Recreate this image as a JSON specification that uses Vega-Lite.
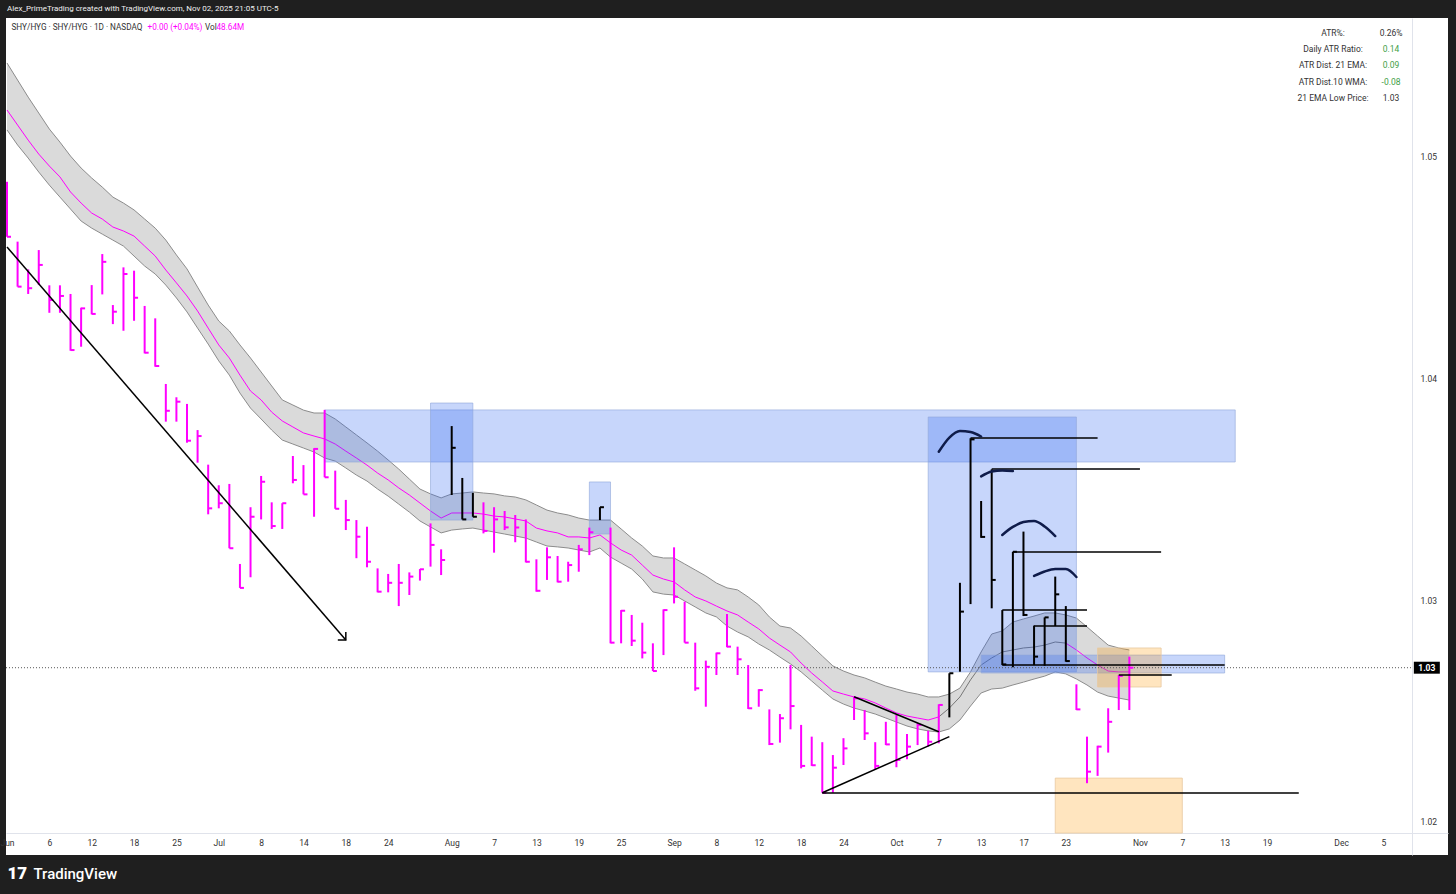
{
  "$schema": "https://vega.github.io/schema/vega-lite/v6.json",
  "width": 1442,
  "height": 837,
  "autosize": "none",
  "padding": {"left": 6, "top": 18, "right": 8, "bottom": 39},
  "background": "#1f1f1f",
  "title": {
    "text": "Alex_PrimeTrading created with TradingView.com, Nov 02, 2025 21:05 UTC-5",
    "anchor": "start",
    "frame": "group",
    "color": "#f0f0f0",
    "font": "Roboto",
    "fontSize": 8,
    "fontWeight": "normal",
    "offset": 5,
    "dx": 1
  },
  "config": {
    "view": {"fill": "#ffffff", "stroke": null},
    "font": "Roboto",
    "axis": {"grid": false, "ticks": false, "domainColor": "#e0e3eb", "labelColor": "#333333", "labelFont": "Roboto"}
  },
  "datasets": {
    "bars": [
      {"date": "2025-06-02", "high": 1.04888, "low": 1.04640, "close": 1.04640, "source": "SHY/HYG"},
      {"date": "2025-06-03", "high": 1.04618, "low": 1.04415, "close": 1.04415, "source": "SHY/HYG"},
      {"date": "2025-06-04", "high": 1.04493, "low": 1.04382, "close": 1.04408, "source": "SHY/HYG"},
      {"date": "2025-06-05", "high": 1.04580, "low": 1.04422, "close": 1.04513, "source": "SHY/HYG"},
      {"date": "2025-06-06", "high": 1.04421, "low": 1.04297, "close": 1.04355, "source": "SHY/HYG"},
      {"date": "2025-06-09", "high": 1.04421, "low": 1.04297, "close": 1.04373, "source": "SHY/HYG"},
      {"date": "2025-06-10", "high": 1.04382, "low": 1.04126, "close": 1.04129, "source": "SHY/HYG"},
      {"date": "2025-06-11", "high": 1.04320, "low": 1.04144, "close": 1.04317, "source": "SHY/HYG"},
      {"date": "2025-06-12", "high": 1.04422, "low": 1.04290, "close": 1.04292, "source": "SHY/HYG"},
      {"date": "2025-06-13", "high": 1.04562, "low": 1.04380, "close": 1.04527, "source": "SHY/HYG"},
      {"date": "2025-06-16", "high": 1.04332, "low": 1.04246, "close": 1.04302, "source": "SHY/HYG"},
      {"date": "2025-06-17", "high": 1.04502, "low": 1.04216, "close": 1.04472, "source": "SHY/HYG"},
      {"date": "2025-06-18", "high": 1.04487, "low": 1.04261, "close": 1.04365, "source": "SHY/HYG"},
      {"date": "2025-06-20", "high": 1.04328, "low": 1.04114, "close": 1.04117, "source": "SHY/HYG"},
      {"date": "2025-06-23", "high": 1.04272, "low": 1.04054, "close": 1.04057, "source": "SHY/HYG"},
      {"date": "2025-06-24", "high": 1.03976, "low": 1.03806, "close": 1.03855, "source": "SHY/HYG"},
      {"date": "2025-06-25", "high": 1.03916, "low": 1.03806, "close": 1.03896, "source": "SHY/HYG"},
      {"date": "2025-06-26", "high": 1.03886, "low": 1.03711, "close": 1.03720, "source": "SHY/HYG"},
      {"date": "2025-06-27", "high": 1.03768, "low": 1.03621, "close": 1.03741, "source": "SHY/HYG"},
      {"date": "2025-06-30", "high": 1.03612, "low": 1.03388, "close": 1.03415, "source": "SHY/HYG"},
      {"date": "2025-07-01", "high": 1.03519, "low": 1.03415, "close": 1.03438, "source": "SHY/HYG"},
      {"date": "2025-07-02", "high": 1.03525, "low": 1.03235, "close": 1.03235, "source": "SHY/HYG"},
      {"date": "2025-07-03", "high": 1.03164, "low": 1.03056, "close": 1.03056, "source": "SHY/HYG"},
      {"date": "2025-07-07", "high": 1.03420, "low": 1.03104, "close": 1.03377, "source": "SHY/HYG"},
      {"date": "2025-07-08", "high": 1.03561, "low": 1.03365, "close": 1.03535, "source": "SHY/HYG"},
      {"date": "2025-07-09", "high": 1.03442, "low": 1.03322, "close": 1.03335, "source": "SHY/HYG"},
      {"date": "2025-07-10", "high": 1.03438, "low": 1.03322, "close": 1.03438, "source": "SHY/HYG"},
      {"date": "2025-07-11", "high": 1.03651, "low": 1.03528, "close": 1.03543, "source": "SHY/HYG"},
      {"date": "2025-07-14", "high": 1.03610, "low": 1.03478, "close": 1.03478, "source": "SHY/HYG"},
      {"date": "2025-07-15", "high": 1.03686, "low": 1.03377, "close": 1.03683, "source": "SHY/HYG"},
      {"date": "2025-07-16", "high": 1.03859, "low": 1.03555, "close": 1.03555, "source": "SHY/HYG"},
      {"date": "2025-07-17", "high": 1.03585, "low": 1.03413, "close": 1.03413, "source": "SHY/HYG"},
      {"date": "2025-07-18", "high": 1.03453, "low": 1.03317, "close": 1.03362, "source": "SHY/HYG"},
      {"date": "2025-07-21", "high": 1.03362, "low": 1.03190, "close": 1.03287, "source": "SHY/HYG"},
      {"date": "2025-07-22", "high": 1.03332, "low": 1.03149, "close": 1.03174, "source": "SHY/HYG"},
      {"date": "2025-07-23", "high": 1.03144, "low": 1.03036, "close": 1.03039, "source": "SHY/HYG"},
      {"date": "2025-07-24", "high": 1.03119, "low": 1.03036, "close": 1.03079, "source": "SHY/HYG"},
      {"date": "2025-07-25", "high": 1.03164, "low": 1.02974, "close": 1.03079, "source": "SHY/HYG"},
      {"date": "2025-07-28", "high": 1.03126, "low": 1.03024, "close": 1.03107, "source": "SHY/HYG"},
      {"date": "2025-07-29", "high": 1.03141, "low": 1.03089, "close": 1.03140, "source": "SHY/HYG"},
      {"date": "2025-07-30", "high": 1.03347, "low": 1.03152, "close": 1.03250, "source": "SHY/HYG"},
      {"date": "2025-07-31", "high": 1.03230, "low": 1.03114, "close": 1.03182, "source": "SHY/HYG"},
      {"date": "2025-08-01", "high": 1.03786, "low": 1.03475, "close": 1.03688, "source": "Bars pattern"},
      {"date": "2025-08-04", "high": 1.03552, "low": 1.03365, "close": 1.03365, "source": "Bars pattern"},
      {"date": "2025-08-05", "high": 1.03485, "low": 1.03377, "close": 1.03377, "source": "Bars pattern"},
      {"date": "2025-08-06", "high": 1.03442, "low": 1.03302, "close": 1.03313, "source": "SHY/HYG"},
      {"date": "2025-08-07", "high": 1.03420, "low": 1.03215, "close": 1.03365, "source": "SHY/HYG"},
      {"date": "2025-08-08", "high": 1.03403, "low": 1.03317, "close": 1.03329, "source": "SHY/HYG"},
      {"date": "2025-08-11", "high": 1.03385, "low": 1.03262, "close": 1.03329, "source": "SHY/HYG"},
      {"date": "2025-08-12", "high": 1.03365, "low": 1.03171, "close": 1.03174, "source": "SHY/HYG"},
      {"date": "2025-08-13", "high": 1.03185, "low": 1.03039, "close": 1.03043, "source": "SHY/HYG"},
      {"date": "2025-08-14", "high": 1.03239, "low": 1.03092, "close": 1.03194, "source": "SHY/HYG"},
      {"date": "2025-08-15", "high": 1.03200, "low": 1.03081, "close": 1.03084, "source": "SHY/HYG"},
      {"date": "2025-08-18", "high": 1.03174, "low": 1.03084, "close": 1.03159, "source": "SHY/HYG"},
      {"date": "2025-08-19", "high": 1.03250, "low": 1.03129, "close": 1.03230, "source": "SHY/HYG"},
      {"date": "2025-08-20", "high": 1.03328, "low": 1.03204, "close": 1.03307, "source": "SHY/HYG"},
      {"date": "2025-08-21", "high": 1.03420, "low": 1.03362, "close": 1.03420, "source": "Bars pattern"},
      {"date": "2025-08-22", "high": 1.03328, "low": 1.02806, "close": 1.02809, "source": "SHY/HYG"},
      {"date": "2025-08-25", "high": 1.02956, "low": 1.02806, "close": 1.02953, "source": "SHY/HYG"},
      {"date": "2025-08-26", "high": 1.02934, "low": 1.02794, "close": 1.02818, "source": "SHY/HYG"},
      {"date": "2025-08-27", "high": 1.02899, "low": 1.02738, "close": 1.02764, "source": "SHY/HYG"},
      {"date": "2025-08-28", "high": 1.02806, "low": 1.02681, "close": 1.02681, "source": "SHY/HYG"},
      {"date": "2025-08-29", "high": 1.02959, "low": 1.02753, "close": 1.02956, "source": "SHY/HYG"},
      {"date": "2025-09-02", "high": 1.03239, "low": 1.02986, "close": 1.03016, "source": "SHY/HYG"},
      {"date": "2025-09-03", "high": 1.02994, "low": 1.02809, "close": 1.02809, "source": "SHY/HYG"},
      {"date": "2025-09-04", "high": 1.02809, "low": 1.02592, "close": 1.02603, "source": "SHY/HYG"},
      {"date": "2025-09-05", "high": 1.02728, "low": 1.02520, "close": 1.02700, "source": "SHY/HYG"},
      {"date": "2025-09-08", "high": 1.02764, "low": 1.02663, "close": 1.02761, "source": "SHY/HYG"},
      {"date": "2025-09-09", "high": 1.02938, "low": 1.02788, "close": 1.02791, "source": "SHY/HYG"},
      {"date": "2025-09-10", "high": 1.02791, "low": 1.02663, "close": 1.02734, "source": "SHY/HYG"},
      {"date": "2025-09-11", "high": 1.02708, "low": 1.02510, "close": 1.02513, "source": "SHY/HYG"},
      {"date": "2025-09-12", "high": 1.02599, "low": 1.02520, "close": 1.02595, "source": "SHY/HYG"},
      {"date": "2025-09-15", "high": 1.02508, "low": 1.02347, "close": 1.02352, "source": "SHY/HYG"},
      {"date": "2025-09-16", "high": 1.02487, "low": 1.02358, "close": 1.02468, "source": "SHY/HYG"},
      {"date": "2025-09-17", "high": 1.02708, "low": 1.02418, "close": 1.02523, "source": "SHY/HYG"},
      {"date": "2025-09-18", "high": 1.02438, "low": 1.02242, "close": 1.02253, "source": "SHY/HYG"},
      {"date": "2025-09-19", "high": 1.02385, "low": 1.02253, "close": 1.02256, "source": "SHY/HYG"},
      {"date": "2025-09-22", "high": 1.02360, "low": 1.02132, "close": 1.02132, "source": "SHY/HYG"},
      {"date": "2025-09-23", "high": 1.02302, "low": 1.02132, "close": 1.02245, "source": "SHY/HYG"},
      {"date": "2025-09-24", "high": 1.02378, "low": 1.02257, "close": 1.02332, "source": "SHY/HYG"},
      {"date": "2025-09-25", "high": 1.02565, "low": 1.02460, "close": 1.02558, "source": "SHY/HYG"},
      {"date": "2025-09-26", "high": 1.02505, "low": 1.02370, "close": 1.02400, "source": "SHY/HYG"},
      {"date": "2025-09-29", "high": 1.02360, "low": 1.02238, "close": 1.02253, "source": "SHY/HYG"},
      {"date": "2025-09-30", "high": 1.02452, "low": 1.02347, "close": 1.02350, "source": "SHY/HYG"},
      {"date": "2025-10-01", "high": 1.02483, "low": 1.02247, "close": 1.02280, "source": "SHY/HYG"},
      {"date": "2025-10-02", "high": 1.02397, "low": 1.02283, "close": 1.02340, "source": "SHY/HYG"},
      {"date": "2025-10-03", "high": 1.02445, "low": 1.02347, "close": 1.02438, "source": "SHY/HYG"},
      {"date": "2025-10-06", "high": 1.02412, "low": 1.02340, "close": 1.02362, "source": "SHY/HYG"},
      {"date": "2025-10-07", "high": 1.02531, "low": 1.02355, "close": 1.02528, "source": "SHY/HYG"},
      {"date": "2025-10-08", "high": 1.02671, "low": 1.02472, "close": 1.02671, "source": "Bars pattern"},
      {"date": "2025-10-09", "high": 1.03079, "low": 1.02678, "close": 1.02949, "source": "Bars pattern"},
      {"date": "2025-10-10", "high": 1.03731, "low": 1.02983, "close": 1.03726, "source": "Bars pattern"},
      {"date": "2025-10-13", "high": 1.03448, "low": 1.03282, "close": 1.03286, "source": "Bars pattern"},
      {"date": "2025-10-14", "high": 1.03591, "low": 1.02964, "close": 1.03092, "source": "Bars pattern"},
      {"date": "2025-10-15", "high": 1.02956, "low": 1.02708, "close": 1.02711, "source": "Bars pattern"},
      {"date": "2025-10-16", "high": 1.03219, "low": 1.02698, "close": 1.03219, "source": "Bars pattern"},
      {"date": "2025-10-17", "high": 1.03310, "low": 1.02929, "close": 1.02934, "source": "Bars pattern"},
      {"date": "2025-10-20", "high": 1.02886, "low": 1.02708, "close": 1.02746, "source": "Bars pattern"},
      {"date": "2025-10-21", "high": 1.02923, "low": 1.02705, "close": 1.02923, "source": "Bars pattern"},
      {"date": "2025-10-22", "high": 1.03107, "low": 1.02884, "close": 1.03027, "source": "Bars pattern"},
      {"date": "2025-10-23", "high": 1.02974, "low": 1.02723, "close": 1.02726, "source": "Bars pattern"},
      {"date": "2025-10-24", "high": 1.02621, "low": 1.02505, "close": 1.02508, "source": "SHY/HYG"},
      {"date": "2025-10-27", "high": 1.02385, "low": 1.02175, "close": 1.02227, "source": "SHY/HYG"},
      {"date": "2025-10-28", "high": 1.02344, "low": 1.02208, "close": 1.02340, "source": "SHY/HYG"},
      {"date": "2025-10-29", "high": 1.02513, "low": 1.02313, "close": 1.02452, "source": "SHY/HYG"},
      {"date": "2025-10-30", "high": 1.02663, "low": 1.02505, "close": 1.02659, "source": "SHY/HYG"},
      {"date": "2025-10-31", "high": 1.02746, "low": 1.02505, "close": 1.02696, "source": "SHY/HYG"}
    ],
    "ema": [
      {"date": "2025-06-02", "upper": 1.05424, "mid": 1.05212, "lower": 1.05122},
      {"date": "2025-06-03", "upper": 1.05347, "mid": 1.05144, "lower": 1.05054},
      {"date": "2025-06-04", "upper": 1.05270, "mid": 1.05076, "lower": 1.04995},
      {"date": "2025-06-05", "upper": 1.05198, "mid": 1.05013, "lower": 1.04932},
      {"date": "2025-06-06", "upper": 1.05126, "mid": 1.04959, "lower": 1.04873},
      {"date": "2025-06-09", "upper": 1.05067, "mid": 1.04910, "lower": 1.04819},
      {"date": "2025-06-10", "upper": 1.05004, "mid": 1.04842, "lower": 1.04765},
      {"date": "2025-06-11", "upper": 1.04950, "mid": 1.04792, "lower": 1.04711},
      {"date": "2025-06-12", "upper": 1.04905, "mid": 1.04747, "lower": 1.04679},
      {"date": "2025-06-13", "upper": 1.04864, "mid": 1.04720, "lower": 1.04652},
      {"date": "2025-06-16", "upper": 1.04819, "mid": 1.04684, "lower": 1.04625},
      {"date": "2025-06-17", "upper": 1.04792, "mid": 1.04666, "lower": 1.04598},
      {"date": "2025-06-18", "upper": 1.04761, "mid": 1.04643, "lower": 1.04553},
      {"date": "2025-06-20", "upper": 1.04720, "mid": 1.04598, "lower": 1.04508},
      {"date": "2025-06-23", "upper": 1.04679, "mid": 1.04553, "lower": 1.04472},
      {"date": "2025-06-24", "upper": 1.04625, "mid": 1.04490, "lower": 1.04422},
      {"date": "2025-06-25", "upper": 1.04558, "mid": 1.04432, "lower": 1.04364},
      {"date": "2025-06-26", "upper": 1.04495, "mid": 1.04373, "lower": 1.04301},
      {"date": "2025-06-27", "upper": 1.04413, "mid": 1.04305, "lower": 1.04228},
      {"date": "2025-06-30", "upper": 1.04332, "mid": 1.04228, "lower": 1.04156},
      {"date": "2025-07-01", "upper": 1.04260, "mid": 1.04152, "lower": 1.04080},
      {"date": "2025-07-02", "upper": 1.04215, "mid": 1.04093, "lower": 1.04016},
      {"date": "2025-07-03", "upper": 1.04152, "mid": 1.04016, "lower": 1.03935},
      {"date": "2025-07-07", "upper": 1.04093, "mid": 1.03944, "lower": 1.03867},
      {"date": "2025-07-08", "upper": 1.04030, "mid": 1.03904, "lower": 1.03818},
      {"date": "2025-07-09", "upper": 1.03967, "mid": 1.03849, "lower": 1.03768},
      {"date": "2025-07-10", "upper": 1.03904, "mid": 1.03809, "lower": 1.03723},
      {"date": "2025-07-11", "upper": 1.03881, "mid": 1.03782, "lower": 1.03705},
      {"date": "2025-07-14", "upper": 1.03858, "mid": 1.03755, "lower": 1.03687},
      {"date": "2025-07-15", "upper": 1.03845, "mid": 1.03741, "lower": 1.03669},
      {"date": "2025-07-16", "upper": 1.03845, "mid": 1.03728, "lower": 1.03642},
      {"date": "2025-07-17", "upper": 1.03818, "mid": 1.03705, "lower": 1.03628},
      {"date": "2025-07-18", "upper": 1.03782, "mid": 1.03673, "lower": 1.03597},
      {"date": "2025-07-21", "upper": 1.03746, "mid": 1.03642, "lower": 1.03565},
      {"date": "2025-07-22", "upper": 1.03710, "mid": 1.03610, "lower": 1.03538},
      {"date": "2025-07-23", "upper": 1.03673, "mid": 1.03574, "lower": 1.03502},
      {"date": "2025-07-24", "upper": 1.03633, "mid": 1.03543, "lower": 1.03470},
      {"date": "2025-07-25", "upper": 1.03592, "mid": 1.03507, "lower": 1.03434},
      {"date": "2025-07-28", "upper": 1.03547, "mid": 1.03475, "lower": 1.03398},
      {"date": "2025-07-29", "upper": 1.03502, "mid": 1.03439, "lower": 1.03358},
      {"date": "2025-07-30", "upper": 1.03480, "mid": 1.03403, "lower": 1.03331},
      {"date": "2025-07-31", "upper": 1.03462, "mid": 1.03371, "lower": 1.03304},
      {"date": "2025-08-01", "upper": 1.03480, "mid": 1.03394, "lower": 1.03317},
      {"date": "2025-08-04", "upper": 1.03484, "mid": 1.03394, "lower": 1.03322},
      {"date": "2025-08-05", "upper": 1.03489, "mid": 1.03394, "lower": 1.03326},
      {"date": "2025-08-06", "upper": 1.03484, "mid": 1.03389, "lower": 1.03317},
      {"date": "2025-08-07", "upper": 1.03480, "mid": 1.03380, "lower": 1.03308},
      {"date": "2025-08-08", "upper": 1.03471, "mid": 1.03376, "lower": 1.03299},
      {"date": "2025-08-11", "upper": 1.03466, "mid": 1.03367, "lower": 1.03290},
      {"date": "2025-08-12", "upper": 1.03453, "mid": 1.03358, "lower": 1.03281},
      {"date": "2025-08-13", "upper": 1.03430, "mid": 1.03326, "lower": 1.03263},
      {"date": "2025-08-14", "upper": 1.03407, "mid": 1.03313, "lower": 1.03245},
      {"date": "2025-08-15", "upper": 1.03394, "mid": 1.03304, "lower": 1.03241},
      {"date": "2025-08-18", "upper": 1.03385, "mid": 1.03286, "lower": 1.03236},
      {"date": "2025-08-19", "upper": 1.03371, "mid": 1.03286, "lower": 1.03227},
      {"date": "2025-08-20", "upper": 1.03362, "mid": 1.03281, "lower": 1.03218},
      {"date": "2025-08-21", "upper": 1.03362, "mid": 1.03295, "lower": 1.03236},
      {"date": "2025-08-22", "upper": 1.03362, "mid": 1.03259, "lower": 1.03195},
      {"date": "2025-08-25", "upper": 1.03322, "mid": 1.03227, "lower": 1.03168},
      {"date": "2025-08-26", "upper": 1.03281, "mid": 1.03204, "lower": 1.03141},
      {"date": "2025-08-27", "upper": 1.03245, "mid": 1.03159, "lower": 1.03096},
      {"date": "2025-08-28", "upper": 1.03200, "mid": 1.03114, "lower": 1.03038},
      {"date": "2025-08-29", "upper": 1.03191, "mid": 1.03096, "lower": 1.03028},
      {"date": "2025-09-02", "upper": 1.03191, "mid": 1.03083, "lower": 1.03024},
      {"date": "2025-09-03", "upper": 1.03164, "mid": 1.03047, "lower": 1.02997},
      {"date": "2025-09-04", "upper": 1.03137, "mid": 1.03015, "lower": 1.02970},
      {"date": "2025-09-05", "upper": 1.03110, "mid": 1.02997, "lower": 1.02943},
      {"date": "2025-09-08", "upper": 1.03078, "mid": 1.02974, "lower": 1.02925},
      {"date": "2025-09-09", "upper": 1.03056, "mid": 1.02952, "lower": 1.02884},
      {"date": "2025-09-10", "upper": 1.03047, "mid": 1.02934, "lower": 1.02857},
      {"date": "2025-09-11", "upper": 1.03015, "mid": 1.02902, "lower": 1.02835},
      {"date": "2025-09-12", "upper": 1.02979, "mid": 1.02871, "lower": 1.02803},
      {"date": "2025-09-15", "upper": 1.02925, "mid": 1.02830, "lower": 1.02776},
      {"date": "2025-09-16", "upper": 1.02884, "mid": 1.02798, "lower": 1.02744},
      {"date": "2025-09-17", "upper": 1.02875, "mid": 1.02767, "lower": 1.02713},
      {"date": "2025-09-18", "upper": 1.02839, "mid": 1.02717, "lower": 1.02677},
      {"date": "2025-09-19", "upper": 1.02794, "mid": 1.02672, "lower": 1.02636},
      {"date": "2025-09-22", "upper": 1.02749, "mid": 1.02632, "lower": 1.02595},
      {"date": "2025-09-23", "upper": 1.02704, "mid": 1.02591, "lower": 1.02555},
      {"date": "2025-09-24", "upper": 1.02681, "mid": 1.02577, "lower": 1.02532},
      {"date": "2025-09-25", "upper": 1.02663, "mid": 1.02564, "lower": 1.02514},
      {"date": "2025-09-26", "upper": 1.02650, "mid": 1.02555, "lower": 1.02501},
      {"date": "2025-09-29", "upper": 1.02631, "mid": 1.02537, "lower": 1.02487},
      {"date": "2025-09-30", "upper": 1.02613, "mid": 1.02514, "lower": 1.02469},
      {"date": "2025-10-01", "upper": 1.02600, "mid": 1.02492, "lower": 1.02451},
      {"date": "2025-10-02", "upper": 1.02586, "mid": 1.02478, "lower": 1.02433},
      {"date": "2025-10-03", "upper": 1.02577, "mid": 1.02469, "lower": 1.02420},
      {"date": "2025-10-06", "upper": 1.02564, "mid": 1.02460, "lower": 1.02411},
      {"date": "2025-10-07", "upper": 1.02564, "mid": 1.02474, "lower": 1.02406},
      {"date": "2025-10-08", "upper": 1.02577, "mid": 1.02514, "lower": 1.02420},
      {"date": "2025-10-09", "upper": 1.02604, "mid": 1.02564, "lower": 1.02460},
      {"date": "2025-10-10", "upper": 1.02677, "mid": 1.02641, "lower": 1.02523},
      {"date": "2025-10-13", "upper": 1.02767, "mid": 1.02708, "lower": 1.02582},
      {"date": "2025-10-14", "upper": 1.02848, "mid": 1.02740, "lower": 1.02600},
      {"date": "2025-10-15", "upper": 1.02862, "mid": 1.02767, "lower": 1.02604},
      {"date": "2025-10-16", "upper": 1.02902, "mid": 1.02776, "lower": 1.02618},
      {"date": "2025-10-17", "upper": 1.02916, "mid": 1.02785, "lower": 1.02631},
      {"date": "2025-10-20", "upper": 1.02929, "mid": 1.02789, "lower": 1.02645},
      {"date": "2025-10-21", "upper": 1.02943, "mid": 1.02798, "lower": 1.02658},
      {"date": "2025-10-22", "upper": 1.02943, "mid": 1.02812, "lower": 1.02677},
      {"date": "2025-10-23", "upper": 1.02934, "mid": 1.02807, "lower": 1.02668},
      {"date": "2025-10-24", "upper": 1.02920, "mid": 1.02776, "lower": 1.02645},
      {"date": "2025-10-27", "upper": 1.02880, "mid": 1.02740, "lower": 1.02618},
      {"date": "2025-10-28", "upper": 1.02839, "mid": 1.02708, "lower": 1.02586},
      {"date": "2025-10-29", "upper": 1.02798, "mid": 1.02681, "lower": 1.02568},
      {"date": "2025-10-30", "upper": 1.02785, "mid": 1.02677, "lower": 1.02559},
      {"date": "2025-10-31", "upper": 1.02776, "mid": 1.02677, "lower": 1.02550}
    ],
    "blueZones": [
      {"start": "2025-07-16", "end": "2025-11-14", "top": 1.03859, "bottom": 1.03624},
      {"start": "2025-07-30", "end": "2025-08-05", "top": 1.03890, "bottom": 1.03362},
      {"start": "2025-08-20", "end": "2025-08-22", "top": 1.03534, "bottom": 1.03299},
      {"start": "2025-10-06", "end": "2025-10-24", "top": 1.03827, "bottom": 1.02677},
      {"start": "2025-10-13", "end": "2025-11-13", "top": 1.02753, "bottom": 1.02672}
    ],
    "orangeZones": [
      {"start": "2025-10-28", "end": "2025-11-05", "top": 1.02785, "bottom": 1.02609},
      {"start": "2025-10-22", "end": "2025-11-07", "top": 1.02198, "bottom": 1.0195}
    ],
    "levels": [
      {"start": "2025-09-22", "end": "2025-11-24", "price": 1.02131},
      {"start": "2025-10-10", "end": "2025-10-28", "price": 1.03732},
      {"start": "2025-10-14", "end": "2025-11-03", "price": 1.03592},
      {"start": "2025-10-16", "end": "2025-11-05", "price": 1.03218},
      {"start": "2025-10-15", "end": "2025-10-27", "price": 1.02956},
      {"start": "2025-10-20", "end": "2025-10-27", "price": 1.02884},
      {"start": "2025-10-15", "end": "2025-11-13", "price": 1.02708},
      {"start": "2025-10-30", "end": "2025-11-06", "price": 1.02663}
    ],
    "trendlines": [
      {"line": "downtrend", "date": "2025-06-02", "price": 1.04594},
      {"line": "downtrend", "date": "2025-07-18", "price": 1.02821},
      {"line": "support", "date": "2025-09-22", "price": 1.02132},
      {"line": "support", "date": "2025-10-08", "price": 1.02385},
      {"line": "resistance", "date": "2025-09-25", "price": 1.02565},
      {"line": "resistance", "date": "2025-10-07", "price": 1.02407}
    ],
    "arcs": [
      {"arc": "a1", "date": "2025-10-07", "price": 1.03670},
      {"arc": "a1", "date": "2025-10-08", "price": 1.03734},
      {"arc": "a1", "date": "2025-10-09", "price": 1.03764},
      {"arc": "a1", "date": "2025-10-10", "price": 1.03759},
      {"arc": "a1", "date": "2025-10-13", "price": 1.03739},
      {"arc": "a2", "date": "2025-10-13", "price": 1.03559},
      {"arc": "a2", "date": "2025-10-14", "price": 1.03581},
      {"arc": "a2", "date": "2025-10-15", "price": 1.03586},
      {"arc": "a2", "date": "2025-10-16", "price": 1.03583},
      {"arc": "a3", "date": "2025-10-15", "price": 1.03295},
      {"arc": "a3", "date": "2025-10-16", "price": 1.03331},
      {"arc": "a3", "date": "2025-10-17", "price": 1.03353},
      {"arc": "a3", "date": "2025-10-20", "price": 1.03358},
      {"arc": "a3", "date": "2025-10-21", "price": 1.03333},
      {"arc": "a3", "date": "2025-10-22", "price": 1.03290},
      {"arc": "a4", "date": "2025-10-20", "price": 1.03110},
      {"arc": "a4", "date": "2025-10-21", "price": 1.03130},
      {"arc": "a4", "date": "2025-10-22", "price": 1.03141},
      {"arc": "a4", "date": "2025-10-23", "price": 1.03141},
      {"arc": "a4", "date": "2025-10-24", "price": 1.03105}
    ]
  },
  "layer": [
    {
      "data": {"name": "ema"},
      "mark": {"type": "area", "color": "#dadada", "opacity": 1},
      "encoding": {
        "x": {
          "field": "date",
          "type": "ordinal",
          "scale": {
            "type": "point",
            "padding": 0.094,
            "domain": ["2025-06-02","2025-06-03","2025-06-04","2025-06-05","2025-06-06","2025-06-09","2025-06-10","2025-06-11","2025-06-12","2025-06-13","2025-06-16","2025-06-17","2025-06-18","2025-06-20","2025-06-23","2025-06-24","2025-06-25","2025-06-26","2025-06-27","2025-06-30","2025-07-01","2025-07-02","2025-07-03","2025-07-07","2025-07-08","2025-07-09","2025-07-10","2025-07-11","2025-07-14","2025-07-15","2025-07-16","2025-07-17","2025-07-18","2025-07-21","2025-07-22","2025-07-23","2025-07-24","2025-07-25","2025-07-28","2025-07-29","2025-07-30","2025-07-31","2025-08-01","2025-08-04","2025-08-05","2025-08-06","2025-08-07","2025-08-08","2025-08-11","2025-08-12","2025-08-13","2025-08-14","2025-08-15","2025-08-18","2025-08-19","2025-08-20","2025-08-21","2025-08-22","2025-08-25","2025-08-26","2025-08-27","2025-08-28","2025-08-29","2025-09-02","2025-09-03","2025-09-04","2025-09-05","2025-09-08","2025-09-09","2025-09-10","2025-09-11","2025-09-12","2025-09-15","2025-09-16","2025-09-17","2025-09-18","2025-09-19","2025-09-22","2025-09-23","2025-09-24","2025-09-25","2025-09-26","2025-09-29","2025-09-30","2025-10-01","2025-10-02","2025-10-03","2025-10-06","2025-10-07","2025-10-08","2025-10-09","2025-10-10","2025-10-13","2025-10-14","2025-10-15","2025-10-16","2025-10-17","2025-10-20","2025-10-21","2025-10-22","2025-10-23","2025-10-24","2025-10-27","2025-10-28","2025-10-29","2025-10-30","2025-10-31","2025-11-03","2025-11-04","2025-11-05","2025-11-06","2025-11-07","2025-11-10","2025-11-11","2025-11-12","2025-11-13","2025-11-14","2025-11-17","2025-11-18","2025-11-19","2025-11-20","2025-11-21","2025-11-24","2025-11-25","2025-11-26","2025-11-28","2025-12-01","2025-12-02","2025-12-03","2025-12-04","2025-12-05","2025-12-08","2025-12-09","2025-12-10","2025-12-11","2025-12-12","2025-12-15"]
          },
          "axis": {
            "orient": "bottom",
            "offset": -22,
            "values": ["2025-06-02","2025-06-06","2025-06-12","2025-06-18","2025-06-25","2025-07-01","2025-07-08","2025-07-14","2025-07-18","2025-07-24","2025-08-01","2025-08-07","2025-08-13","2025-08-19","2025-08-25","2025-09-02","2025-09-08","2025-09-12","2025-09-18","2025-09-24","2025-10-01","2025-10-07","2025-10-13","2025-10-17","2025-10-23","2025-11-03","2025-11-07","2025-11-13","2025-11-19","2025-12-01","2025-12-05"],
            "labelExpr": "datum.value == '2025-06-02' ? 'Jun' : datum.value == '2025-07-01' ? 'Jul' : datum.value == '2025-08-01' ? 'Aug' : datum.value == '2025-09-02' ? 'Sep' : datum.value == '2025-10-01' ? 'Oct' : datum.value == '2025-11-03' ? 'Nov' : datum.value == '2025-12-01' ? 'Dec' : '' + toNumber(slice(datum.value, 8))",
            "labelAngle": 0,
            "labelPadding": 5,
            "labelFontSize": 8.5,
            "labelOverlap": false,
            "title": "TradingView",
            "titleColor": "#ffffff",
            "titleFont": "Roboto",
            "titleFontSize": 15,
            "titleFontWeight": 500,
            "titleAnchor": "start",
            "titleAlign": "left",
            "titleBaseline": "middle",
            "titleX": 27,
            "titleY": 40
          }
        },
        "y": {
          "field": "upper",
          "type": "quantitative",
          "scale": {"domain": [1.018511, 1.056269], "nice": false, "zero": false},
          "axis": {
            "orient": "right",
            "offset": -36,
            "values": [1.02, 1.03, 1.04, 1.05],
            "format": ".2f",
            "labelPadding": 8,
            "labelFontSize": 8.5,
            "title": "17",
            "titleColor": "#ffffff",
            "titleFont": "Roboto",
            "titleFontSize": 17,
            "titleFontWeight": 900,
            "titleAngle": 0,
            "titleAlign": "left",
            "titleBaseline": "middle",
            "titleX": -1405,
            "titleY": 855
          }
        },
        "y2": {"field": "lower"}
      }
    },
    {
      "data": {"name": "ema"},
      "mark": {"type": "line", "color": "#8c8c8c", "strokeWidth": 1},
      "encoding": {
        "x": {"field": "date", "type": "ordinal", "scale": {"type": "point"}},
        "y": {"field": "upper", "type": "quantitative"}
      }
    },
    {
      "data": {"name": "ema"},
      "mark": {"type": "line", "color": "#8c8c8c", "strokeWidth": 1},
      "encoding": {
        "x": {"field": "date", "type": "ordinal", "scale": {"type": "point"}},
        "y": {"field": "lower", "type": "quantitative"}
      }
    },
    {
      "data": {"name": "ema"},
      "transform": [{"filter": "datum.date <= '2025-10-07'"}],
      "mark": {"type": "line", "color": "#ff00ff", "strokeWidth": 1},
      "encoding": {
        "x": {"field": "date", "type": "ordinal", "scale": {"type": "point"}},
        "y": {"field": "mid", "type": "quantitative"}
      }
    },
    {
      "data": {"name": "ema"},
      "transform": [{"filter": "datum.date >= '2025-10-07' && datum.date <= '2025-10-23'"}],
      "mark": {"type": "line", "color": "#777777", "strokeWidth": 1},
      "encoding": {
        "x": {"field": "date", "type": "ordinal", "scale": {"type": "point"}},
        "y": {"field": "mid", "type": "quantitative"}
      }
    },
    {
      "data": {"name": "ema"},
      "transform": [{"filter": "datum.date >= '2025-10-23'"}],
      "mark": {"type": "line", "color": "#ff00ff", "strokeWidth": 1},
      "encoding": {
        "x": {"field": "date", "type": "ordinal", "scale": {"type": "point"}},
        "y": {"field": "mid", "type": "quantitative"}
      }
    },
    {
      "data": {"name": "blueZones"},
      "mark": {"type": "rect", "fill": "#3066f0", "fillOpacity": 0.27, "stroke": "#8fa6d8", "strokeOpacity": 0.6, "strokeWidth": 1},
      "encoding": {
        "x": {"field": "start", "type": "ordinal", "scale": {"type": "point"}},
        "x2": {"field": "end"},
        "y": {"field": "top", "type": "quantitative"},
        "y2": {"field": "bottom"}
      }
    },
    {
      "data": {"name": "orangeZones"},
      "mark": {"type": "rect", "fill": "#ff9800", "fillOpacity": 0.25, "stroke": "#e8c9a0", "strokeOpacity": 0.8, "strokeWidth": 1, "clip": true},
      "encoding": {
        "x": {"field": "start", "type": "ordinal", "scale": {"type": "point"}},
        "x2": {"field": "end"},
        "y": {"field": "top", "type": "quantitative"},
        "y2": {"field": "bottom"}
      }
    },
    {
      "data": {"name": "bars"},
      "transform": [{"filter": "datum.date == '2025-10-31'"}],
      "mark": {"type": "rule", "color": "#555555", "strokeWidth": 1, "strokeDash": [1, 2], "xOffset": -1, "x2Offset": -3},
      "encoding": {
        "x": {"datum": "2025-06-02", "type": "ordinal", "scale": {"type": "point"}},
        "x2": {"datum": "2025-12-10"},
        "y": {"field": "close", "type": "quantitative"}
      }
    },
    {
      "data": {"name": "bars"},
      "mark": {"type": "rule", "strokeWidth": 2},
      "encoding": {
        "x": {"field": "date", "type": "ordinal", "scale": {"type": "point"}},
        "y": {"field": "high", "type": "quantitative"},
        "y2": {"field": "low"},
        "color": {"field": "source", "type": "nominal", "scale": {"domain": ["SHY/HYG", "Bars pattern"], "range": ["#ff00ff", "#000000"]}, "legend": null}
      }
    },
    {
      "data": {"name": "bars"},
      "mark": {"type": "tick", "size": 4, "thickness": 2, "xOffset": 2, "opacity": 1},
      "encoding": {
        "x": {"field": "date", "type": "ordinal", "scale": {"type": "point"}},
        "y": {"field": "close", "type": "quantitative"},
        "color": {"field": "source", "type": "nominal", "legend": null}
      }
    },
    {
      "data": {"name": "levels"},
      "mark": {"type": "rule", "color": "#000000", "strokeWidth": 1.5},
      "encoding": {
        "x": {"field": "start", "type": "ordinal", "scale": {"type": "point"}},
        "x2": {"field": "end"},
        "y": {"field": "price", "type": "quantitative"}
      }
    },
    {
      "data": {"name": "trendlines"},
      "mark": {"type": "line", "color": "#000000", "strokeWidth": 1.5},
      "encoding": {
        "x": {"field": "date", "type": "ordinal", "scale": {"type": "point"}},
        "y": {"field": "price", "type": "quantitative"},
        "detail": {"field": "line", "type": "nominal"}
      }
    },
    {
      "data": {"name": "trendlines"},
      "transform": [{"filter": "datum.line == 'downtrend' && datum.date == '2025-07-18'"}],
      "mark": {"type": "point", "shape": "M-1,0L0,0L0,-1", "size": 256, "filled": false, "color": "#000000", "strokeWidth": 1.5, "opacity": 1},
      "encoding": {
        "x": {"field": "date", "type": "ordinal", "scale": {"type": "point"}},
        "y": {"field": "price", "type": "quantitative"}
      }
    },
    {
      "data": {"name": "arcs"},
      "mark": {"type": "line", "color": "#0f1c4a", "strokeWidth": 2.5, "interpolate": "monotone", "strokeCap": "round"},
      "encoding": {
        "x": {"field": "date", "type": "ordinal", "scale": {"type": "point"}},
        "y": {"field": "price", "type": "quantitative"},
        "detail": {"field": "arc", "type": "nominal"}
      }
    },
    {
      "data": {"name": "bars"},
      "transform": [{"filter": "datum.date == '2025-10-31'"}],
      "mark": {"type": "point", "shape": "M-1,-0.46H1V0.46H-1Z", "size": 676, "filled": true, "color": "#000000", "opacity": 1, "xOffset": 1},
      "encoding": {
        "x": {"datum": "2025-12-11", "type": "ordinal", "scale": {"type": "point"}},
        "y": {"field": "close", "type": "quantitative"}
      }
    },
    {
      "data": {"name": "bars"},
      "transform": [{"filter": "datum.date == '2025-10-31'"}],
      "mark": {"type": "text", "color": "#ffffff", "font": "Roboto", "fontSize": 8.5, "fontWeight": "bold", "align": "center", "baseline": "middle", "xOffset": 1},
      "encoding": {
        "x": {"datum": "2025-12-11", "type": "ordinal", "scale": {"type": "point"}},
        "y": {"field": "close", "type": "quantitative"},
        "text": {"field": "close", "type": "quantitative", "format": ".2f"}
      }
    },
    {
      "data": {"values": [{}]},
      "mark": {"type": "text", "text": "SHY/HYG · SHY/HYG · 1D · NASDAQ", "color": "#333333", "font": "Roboto", "fontSize": 8.2, "align": "left", "baseline": "middle", "dx": 4.5},
      "encoding": {
        "x": {"datum": "2025-06-02", "type": "ordinal", "scale": {"type": "point"}},
        "y": {"datum": 1.05582, "type": "quantitative"}
      }
    },
    {
      "data": {"values": [{}]},
      "mark": {"type": "text", "text": "+0.00 (+0.04%)", "color": "#ff00ff", "font": "Roboto", "fontSize": 8.2, "align": "left", "baseline": "middle", "dx": 140.5},
      "encoding": {
        "x": {"datum": "2025-06-02", "type": "ordinal", "scale": {"type": "point"}},
        "y": {"datum": 1.05582, "type": "quantitative"}
      }
    },
    {
      "data": {"values": [{}]},
      "mark": {"type": "text", "text": "Vol", "color": "#333333", "font": "Roboto", "fontSize": 8.2, "align": "left", "baseline": "middle", "dx": 198},
      "encoding": {
        "x": {"datum": "2025-06-02", "type": "ordinal", "scale": {"type": "point"}},
        "y": {"datum": 1.05582, "type": "quantitative"}
      }
    },
    {
      "data": {"values": [{}]},
      "mark": {"type": "text", "text": "48.64M", "color": "#ff00ff", "font": "Roboto", "fontSize": 8.2, "align": "left", "baseline": "middle", "dx": 209.5},
      "encoding": {
        "x": {"datum": "2025-06-02", "type": "ordinal", "scale": {"type": "point"}},
        "y": {"datum": 1.05582, "type": "quantitative"}
      }
    },
    {
      "data": {"values": [{}]},
      "mark": {"type": "text", "text": ["ATR%:", "Daily ATR Ratio:", "ATR Dist. 21 EMA:", "ATR Dist.10 WMA:", "21 EMA Low Price:"], "lineHeight": 16.25, "color": "#333333", "font": "Roboto", "fontSize": 8.5, "align": "center", "baseline": "top", "dx": 2.5},
      "encoding": {
        "x": {"datum": "2025-11-28", "type": "ordinal", "scale": {"type": "point"}},
        "y": {"datum": 1.05578, "type": "quantitative"}
      }
    },
    {
      "data": {"values": [{}]},
      "mark": {"type": "text", "text": "0.26%", "color": "#333333", "font": "Roboto", "fontSize": 8.5, "align": "center", "baseline": "top", "dx": -3},
      "encoding": {
        "x": {"datum": "2025-12-08", "type": "ordinal", "scale": {"type": "point"}},
        "y": {"datum": 1.05578, "type": "quantitative"}
      }
    },
    {
      "data": {"values": [{}]},
      "mark": {"type": "text", "text": ["0.14", "0.09", "-0.08"], "lineHeight": 16.25, "color": "#43a047", "font": "Roboto", "fontSize": 8.5, "align": "center", "baseline": "top", "dx": -3},
      "encoding": {
        "x": {"datum": "2025-12-08", "type": "ordinal", "scale": {"type": "point"}},
        "y": {"datum": 1.055049, "type": "quantitative"}
      }
    },
    {
      "data": {"values": [{}]},
      "mark": {"type": "text", "text": "1.03", "color": "#333333", "font": "Roboto", "fontSize": 8.5, "align": "center", "baseline": "top", "dx": -3},
      "encoding": {
        "x": {"datum": "2025-12-08", "type": "ordinal", "scale": {"type": "point"}},
        "y": {"datum": 1.05285, "type": "quantitative"}
      }
    }
  ]
}
